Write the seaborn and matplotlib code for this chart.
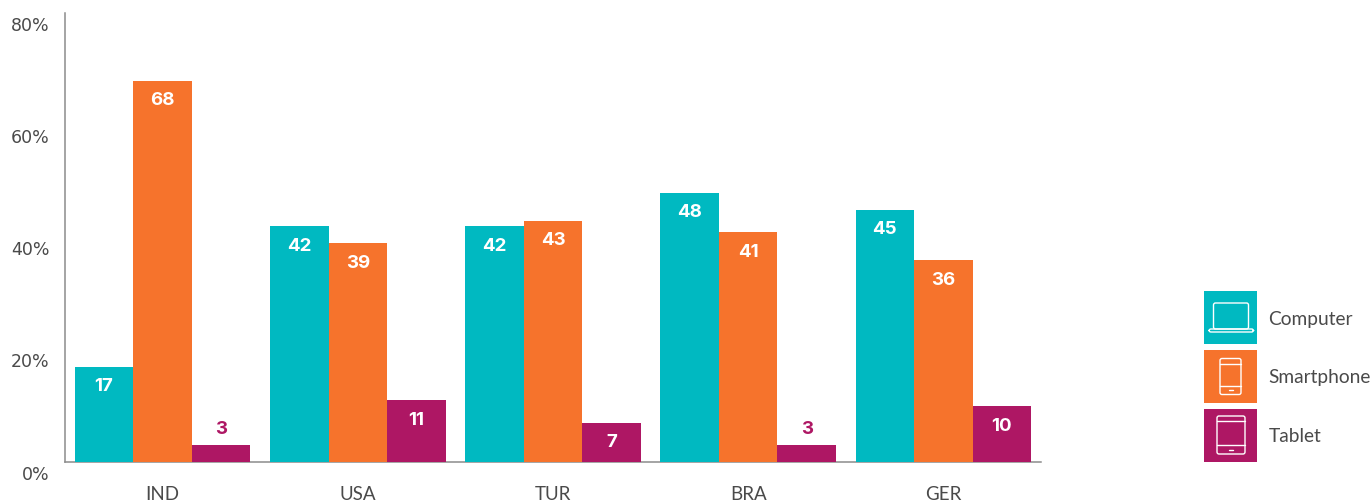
import numpy as np
import pandas as pd
import seaborn as sns
import matplotlib.pyplot as plt
from matplotlib.patches import Rectangle, FancyBboxPatch
from matplotlib.transforms import ScaledTranslation

countries = ["IND", "USA", "TUR", "BRA", "GER"]
devices = ["Computer", "Smartphone", "Tablet"]
computer = [17, 42, 42, 48, 45]
smartphone = [68, 39, 43, 41, 36]
tablet = [3, 11, 7, 3, 10]
yticks = [0, 20, 40, 60, 80]
colours = ["#00B9C1", "#F6732C", "#AE1764"]

df = pd.DataFrame({"country": countries, "Computer": computer, "Smartphone": smartphone, "Tablet": tablet})
df = df.melt(id_vars="country", var_name="device", value_name="share")

sns.set_style("white")
plt.rcParams["font.family"] = ["Lato", "DejaVu Sans"]

fig = plt.figure(figsize=(13.72, 5.01), dpi=100)
ax = fig.add_axes([65 / 1372, 1 - 462 / 501, (1041 - 65) / 1372, (462 - 13.2) / 501])

sns.barplot(data=df, x="country", y="share", hue="device", hue_order=devices, order=countries,
            palette=colours, saturation=1, width=0.9, gap=0, legend=False, linewidth=0, ax=ax)

ax.set_xlim(-0.5, 4.5)
ax.set_ylim(0, 80)
ax.set_xlabel("")
ax.set_ylabel("")
ax.set_yticks(yticks)
ax.set_yticklabels([str(t) + "%" for t in yticks])
ax.tick_params(axis="both", length=0)
ax.tick_params(axis="y", pad=11, labelsize=12.5, labelcolor="#4a4a4a")
ax.tick_params(axis="x", pad=17.5, labelsize=13.5, labelcolor="#4a4a4a")

# labels sit under their tick position in the original
for lab in ax.get_yticklabels():
    lab.set_family("DejaVu Sans")
    lab.set_transform(lab.get_transform() + ScaledTranslation(0, -10.5 / 100, fig.dpi_scale_trans))

sns.despine(ax=ax)
for side in ["left", "bottom"]:
    ax.spines[side].set_color("#8c8c8c")
    ax.spines[side].set_linewidth(1.1)
    ax.spines[side].set_zorder(0.5)

# value labels, inside the bar unless the bar is too short
for cont, col in zip(ax.containers, colours):
    for bar in cont:
        v = bar.get_height()
        x = bar.get_x() + bar.get_width() / 2
        if v < 5:
            ax.annotate(f"{v:.0f}", (x, v), xytext=(0, 11.5), textcoords="offset points", ha="center",
                        va="center", fontsize=13.5, fontweight="bold", color=col, family="Inter")
        else:
            ax.annotate(f"{v:.0f}", (x, v), xytext=(0, -14.5), textcoords="offset points", ha="center",
                        va="center", fontsize=13.5, fontweight="bold", color="white", family="Inter")

# legend with the little device icons, in pixel coordinates
lg = fig.add_axes([0, 0, 1, 1])
lg.set_xlim(0, 1372)
lg.set_ylim(501, 0)
lg.axis("off")
lg.patch.set_alpha(0)


def icon_box(x0, y0, w, h):
    lg.add_patch(FancyBboxPatch((x0, y0), w, h, boxstyle="round,pad=0,rounding_size=2", fc="none", ec="white", lw=1))


tops = [291, 350, 409]
for top, name, col in zip(tops, devices, colours):
    lg.add_patch(Rectangle((1204, top), 53, 53, fc=col, ec="none"))
    lg.text(1268.5, top + 28, name, fontsize=13.8, color="#4a4a4a", va="center", ha="left")

# laptop
icon_box(1213.5, 303, 35, 26)
icon_box(1209, 329, 44.5, 3)
# phone
icon_box(1220, 358.5, 21, 36)
lg.plot([1220, 1241], [364, 364], color="white", lw=1)
lg.plot([1220, 1241], [386, 386], color="white", lw=1)
lg.plot([1228.5, 1232.5], [390, 390], color="white", lw=1)
# tablet
icon_box(1217, 416, 28, 38)
lg.plot([1217, 1245], [421, 421], color="white", lw=1)
lg.plot([1217, 1245], [445, 445], color="white", lw=1)
lg.plot([1229, 1233], [450, 450], color="white", lw=1)

fig.savefig("out.png", dpi=100)
